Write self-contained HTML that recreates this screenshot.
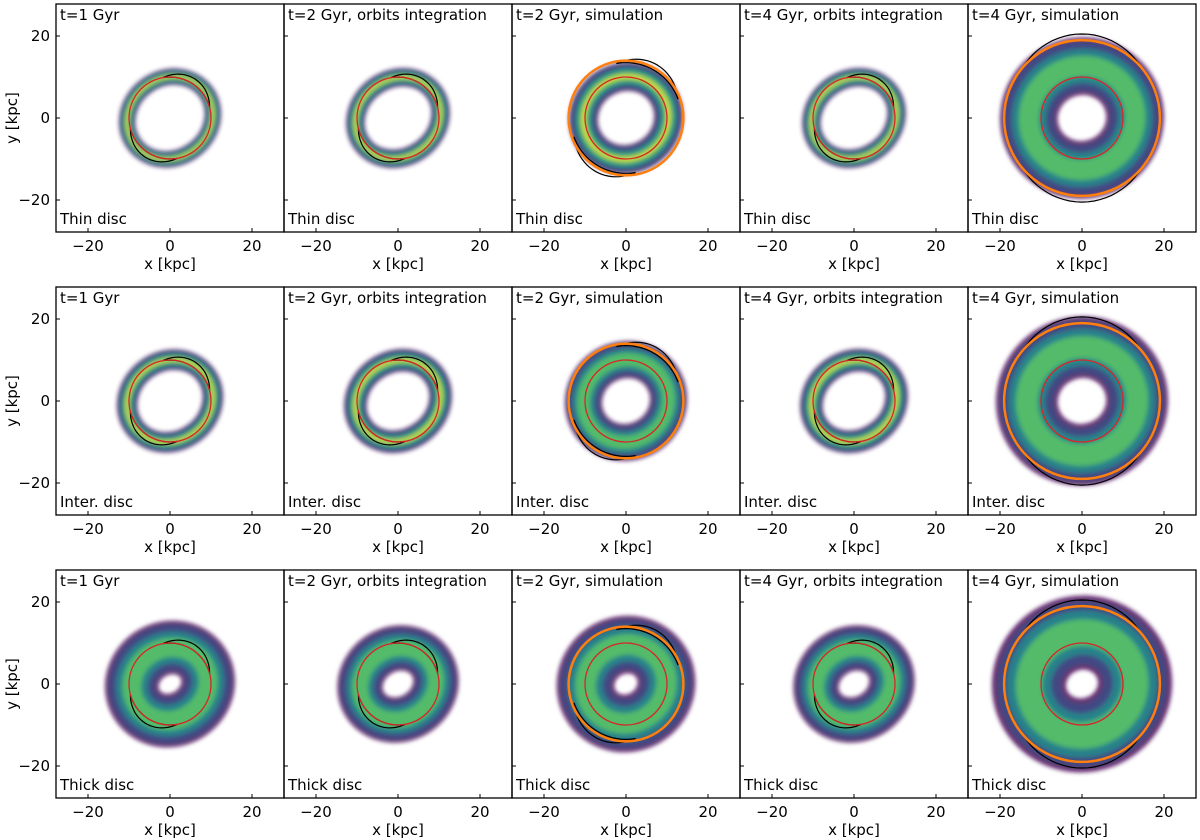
<!DOCTYPE html>
<html><head><meta charset="utf-8"><style>
html,body{margin:0;padding:0;background:#fff}
svg{display:block;font-family:"DejaVu Sans","Liberation Sans",sans-serif}
</style></head><body>
<svg id="fig" width="1200" height="840" viewBox="0 0 1200 840"><defs><filter id="blur" x="-20%" y="-20%" width="140%" height="140%"><feGaussianBlur stdDeviation="2.2"/></filter></defs></svg>
<script>
const colTitles=["t=1 Gyr","t=2 Gyr, orbits integration","t=2 Gyr, simulation","t=4 Gyr, orbits integration","t=4 Gyr, simulation"];
const rowLabels=["Thin disc","Inter. disc","Thick disc"];
const ticks=[-20,0,20];
const tickLabels=["\u221220","0","20"];
// ring mid radius (kpc), width (kpc), aspect, angle, peak colour level
const ringR=[[10.8,10.8,10.5,10.8,13],[10.8,10.8,10.5,10.8,13.5],[9.5,9.5,10,9.5,13]];
const ringW=[[4,4.5,7,4.5,14],[5,5.5,9,5.5,15],[13,11,14,11,18]];
const ringAsp=[[0.9,0.88,0.95,0.88,0.97],[0.9,0.88,0.95,0.88,0.97],[0.92,0.9,0.95,0.9,0.96]];
const ringAng=[[-35,-35,-30,-35,-20],[-35,-35,-30,-35,-20],[-30,-30,-30,-30,-20]];
const ringPeak=[[4,4,4,4,3],[4,4,3,4,3],[3,3,3,3,3]];
const orangeR=[0,0,14,0,19];
const crescIn=[10,10,13.5,10,19];
const crescOut=[11.3,11.3,15,11.3,20.5];
const crescStart=[15,15,20,15,40];
const crescEnd=[100,100,100,100,140];
const redR=10;

const svg=document.getElementById('fig');
const NS='http://www.w3.org/2000/svg';
const colLeft=[56,284,512,740,968];
const rowTop=[4,287,570];
const W=228, S=4.1;
const colors=['#440154','#3b528b','#21918c','#5ec962','#fde725'];
const fracs=[1,0.85,0.6,0.36,0.14];
function mk(tag,attrs,parent){const e=document.createElementNS(NS,tag);for(const k in attrs)e.setAttribute(k,attrs[k]);(parent||svg).appendChild(e);return e;}
function crescent(cx,cy,ri,ro,a0,a1){
  const pt=(r,a)=>[cx+r*S*Math.cos(a*Math.PI/180),cy-r*S*Math.sin(a*Math.PI/180)];
  let d='';
  const n=24;
  for(let k=0;k<=n;k++){const a=a0+(a1-a0)*k/n;const r=ri+(ro-ri)*Math.sin(Math.PI*k/n);const p=pt(r,a);d+=(d?'L':'M')+p[0].toFixed(1)+' '+p[1].toFixed(1);}
  for(let k=n;k>=0;k--){const a=a0+(a1-a0)*k/n;const p=pt(ri,a);d+='L'+p[0].toFixed(1)+' '+p[1].toFixed(1);}
  return d+'Z';
}
for(let r=0;r<3;r++){for(let c=0;c<5;c++){
  const x0=colLeft[c],y0=rowTop[r],cx=x0+W/2,cy=y0+W/2;
  const g=mk('g',{});
  
  
  const clip=mk('clipPath',{id:'cl'+r+c},g);mk('rect',{x:x0,y:y0,width:W,height:W},clip);
  const cg=mk('g',{'clip-path':'url(#cl'+r+c+')'},g);
  const dg=mk('g',{filter:'url(#blur)'},cg);
  
  
  const rm=ringR[r][c],w=ringW[r][c],asp=ringAsp[r][c],ang=ringAng[r][c];
  for(let i=0;i<=ringPeak[r][c];i++){
    const e=mk('ellipse',{cx:cx,cy:cy,rx:rm*S,ry:rm*S*asp,fill:'none',stroke:colors[i],'stroke-width':w*S*fracs[i],transform:'rotate('+ang+' '+cx+' '+cy+')',opacity:i==0?0.85:0.8},dg);
    
    
  }
  for(const off of [0,180]){
    const p=mk('path',{d:crescent(cx,cy,crescIn[c],crescOut[c],crescStart[c]+off,crescEnd[c]+off),fill:'none',stroke:'#000','stroke-width':1.2},cg);
    
    
  }
  if(orangeR[c]>0){const o=mk('circle',{cx:cx,cy:cy,r:orangeR[c]*S,fill:'none',stroke:'#ff7f0e','stroke-width':2.5},cg);
    
    }
  const rc=mk('circle',{cx:cx,cy:cy,r:redR*S,fill:'none',stroke:'#d62728','stroke-width':1.3},cg);
  
  
  const fr=mk('rect',{x:x0,y:y0,width:W,height:W,fill:'none',stroke:'#000','stroke-width':1.3},g);
  
  
  ticks.forEach((t,i)=>{
    const tx=cx+t*S, ty=cy-t*S;
    mk('line',{x1:tx,x2:tx,y1:y0+W,y2:y0+W-4,stroke:'#000','stroke-width':1},g);
    mk('line',{x1:x0,x2:x0+4,y1:ty,y2:ty,stroke:'#000','stroke-width':1},g);
    const xl=mk('text',{x:tx,y:y0+W+19,'font-size':15,'text-anchor':'middle'},g);xl.textContent=tickLabels[i];
    
    
    if(c==0){const yl=mk('text',{x:x0-6,y:ty+5,'font-size':15,'text-anchor':'end'},g);yl.textContent=tickLabels[i];
      
      }
  });
  const xt=mk('text',{x:cx,y:y0+W+37,'font-size':15,'text-anchor':'middle'},g);xt.textContent='x [kpc]';
  
  
  if(c==0){const yt=mk('text',{x:17,y:cy,'font-size':15,'text-anchor':'middle',transform:'rotate(-90 17 '+cy+')'},g);yt.textContent='y [kpc]';
    
    }
  const tt=mk('text',{x:x0+4,y:y0+16,'font-size':15},g);tt.textContent=colTitles[c];
  
  
  const dl=mk('text',{x:x0+4,y:y0+W-8,'font-size':15},g);dl.textContent=rowLabels[r];
  
  
}}
</script>
</body></html>
